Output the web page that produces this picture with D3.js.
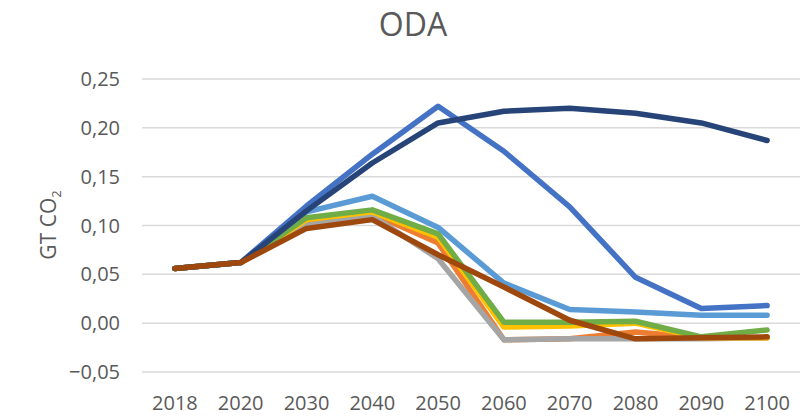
<!DOCTYPE html>
<html>
<head>
<meta charset="utf-8">
<script src="https://cdn.jsdelivr.net/npm/d3@7"></script>
<style>
  body { margin: 0; background: #fff; }
  svg text { font-family: "Open Sans", "Noto Sans", sans-serif; fill: #595959; }
  .grid line { stroke: #d9d9d9; stroke-width: 1.5; }
  .serie { fill: none; stroke-width: 5.5; stroke-linejoin: round; stroke-linecap: round; }
</style>
</head>
<body>
<div id="chart"></div>
<script>
var years = ["2018", "2020", "2030", "2040", "2050", "2060", "2070", "2080", "2090", "2100"];
var yTicks = [-0.05, 0, 0.05, 0.10, 0.15, 0.20, 0.25];

// series, in Excel drawing order (last one on top)
var blue      = [0.056, 0.062, 0.120, 0.173, 0.222, 0.176, 0.119, 0.047, 0.015, 0.018];
var orange    = [0.056, 0.062, 0.103, 0.112, 0.082, -0.017, -0.016, -0.009, -0.015, -0.015];
var gray      = [0.056, 0.062, 0.100, 0.110, 0.066, -0.017, -0.016, -0.016, -0.016, -0.015];
var yellow    = [0.056, 0.062, 0.106, 0.114, 0.088, -0.004, -0.003, 0.000, -0.015, -0.015];
var lightblue = [0.056, 0.062, 0.114, 0.130, 0.098, 0.041, 0.014, 0.0115, 0.008, 0.008];
var green     = [0.056, 0.062, 0.108, 0.116, 0.0915, 0.001, 0.001, 0.002, -0.014, -0.007];
var darkblue  = [0.056, 0.062, 0.115, 0.164, 0.205, 0.217, 0.220, 0.215, 0.205, 0.187];
var brown     = [0.056, 0.062, 0.097, 0.106, 0.070, 0.037, 0.003, -0.016, -0.015, -0.014];

var series = [
    { values: blue, color: "#4472C4" },
    { values: orange, color: "#ED7D31" },
    { values: gray, color: "#A5A5A5" },
    { values: yellow, color: "#FFC000" },
    { values: lightblue, color: "#5B9BD5" },
    { values: green, color: "#70AD47" },
    { values: darkblue, color: "#264478" },
    { values: brown, color: "#9E480E" }
];

var W = 803, H = 417;
var svg = d3.select("#chart").append("svg")
    .attr("width", W)
    .attr("height", H);

var xScale = d3.scaleBand()
    .domain(years)
    .range([142, 800]);

var yScale = d3.scaleLinear()
    .domain([-0.05, 0.25])
    .range([372, 79]);

var fmt = function (d) { return d3.format(".2f")(d).replace(".", ","); };

// gridlines
svg.append("g")
    .attr("class", "grid")
    .selectAll("line")
    .data(yTicks)
    .enter().append("line")
    .attr("x1", 142)
    .attr("x2", 800)
    .attr("y1", function (d) { return yScale(d); })
    .attr("y2", function (d) { return yScale(d); });

// y tick labels
svg.append("g")
    .selectAll("text")
    .data(yTicks)
    .enter().append("text")
    .attr("x", 120)
    .attr("y", function (d) { return yScale(d) + 7; })
    .attr("text-anchor", "end")
    .style("font-size", "20px")
    .text(fmt);

// x tick labels
svg.append("g")
    .selectAll("text")
    .data(years)
    .enter().append("text")
    .attr("x", function (d) { return xScale(d) + xScale.bandwidth() / 2; })
    .attr("y", 410)
    .attr("text-anchor", "middle")
    .style("font-size", "20px")
    .text(function (d) { return d; });

var line = d3.line()
    .x(function (d, i) { return xScale(years[i]) + xScale.bandwidth() / 2; })
    .y(function (d) { return yScale(d); });

svg.selectAll(".serie")
    .data(series)
    .enter().append("path")
    .attr("class", "serie")
    .attr("stroke", function (d) { return d.color; })
    .attr("d", function (d) { return line(d.values); });

// title
svg.append("text")
    .attr("x", 413)
    .attr("y", 36)
    .attr("text-anchor", "middle")
    .style("font-size", "32px")
    .text("ODA");

// y axis title
var yt = svg.append("text")
    .attr("transform", "translate(56," + 225 + ") rotate(-90)")
    .attr("text-anchor", "middle")
    .style("font-size", "21px");
yt.append("tspan").text("GT CO");
yt.append("tspan").attr("dy", 5).style("font-size", "13px").text("2");
</script>
</body>
</html>
